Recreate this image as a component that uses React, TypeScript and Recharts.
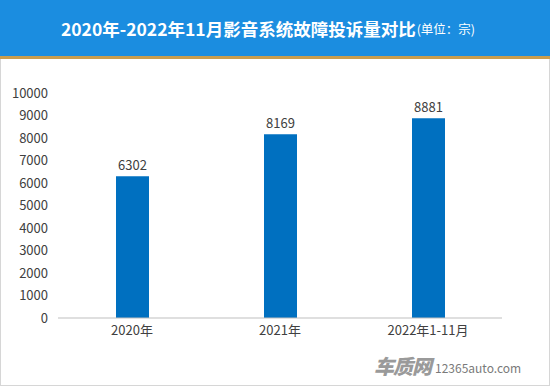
import { BarChart, Bar, XAxis, YAxis, LabelList } from "recharts";

// complaint counts per period
const categories = ["2020年", "2021年", "2022年1-11月"];
const complaints = [6302, 8169, 8881];
const yTicks = [0, 1000, 2000, 3000, 4000, 5000, 6000, 7000, 8000, 9000, 10000];

const data = categories.map((name, i) => ({ name, value: complaints[i] }));

const FONT = '"Noto Sans CJK SC", "Noto Sans", sans-serif';

export default function App() {
  return (
    <div
      style={{
        position: "fixed",
        left: 0,
        top: 0,
        width: 550,
        height: 386,
        background: "#fff",
        fontFamily: FONT,
        overflow: "hidden",
      }}
    >
      {/* title bar */}
      <div
        style={{
          position: "absolute",
          left: 0,
          top: 0,
          width: 550,
          height: 59,
          background: "#1B8DE0",
          borderBottom: "3px solid #C99D4E",
          color: "#fff",
          display: "flex",
          alignItems: "center",
          justifyContent: "center",
          boxSizing: "border-box",
          paddingRight: 14,
        }}
      >
        <span style={{ fontSize: 17.5, fontWeight: 700 }}>2020年-2022年11月影音系统故障投诉量对比</span>
        <span style={{ fontSize: 12.5, marginLeft: 1 }}>(单位：宗)</span>
      </div>

      {/* frame */}
      <div
        style={{
          position: "absolute",
          left: 0,
          top: 59,
          width: 550,
          height: 327,
          boxSizing: "border-box",
          border: "1px solid #D6D6D6",
          borderTop: "none",
        }}
      />

      <div style={{ position: "absolute", left: 0, top: 0 }}>
        <BarChart
          width={550}
          height={386}
          data={data}
          margin={{ top: 93, right: 48, bottom: 38, left: 0 }}
          barSize={33}
        >
          <XAxis
            dataKey="name"
            height={30}
            axisLine={{ stroke: "#BFBFBF" }}
            tickLine={false}
            tickSize={0}
            tickMargin={8}
            tick={{ fill: "#404040", fontSize: 13, fontFamily: FONT }}
          />
          <YAxis
            width={58}
            domain={[0, 10000]}
            ticks={yTicks}
            interval={0}
            axisLine={false}
            tickLine={false}
            tickSize={0}
            tickMargin={10}
            tick={{ fill: "#404040", fontSize: 13, fontFamily: FONT }}
          />
          <Bar dataKey="value" fill="#0070C0" isAnimationActive={false}>
            <LabelList
              dataKey="value"
              position="top"
              offset={6}
              style={{ fill: "#404040", fontSize: 13, fontFamily: FONT }}
            />
          </Bar>
        </BarChart>
      </div>

      {/* watermark */}
      <div
        style={{
          position: "absolute",
          left: 374,
          top: 354,
          display: "flex",
          alignItems: "flex-end",
          color: "#9A9A9A",
        }}
      >
        <span style={{ fontSize: 20, fontWeight: 900, fontStyle: "italic", lineHeight: "24px", letterSpacing: -1 }}>
          车质网
        </span>
        <span style={{ fontSize: 12, marginLeft: 4, lineHeight: "20px", color: "#7A7A7A" }}>12365auto.com</span>
      </div>
    </div>
  );
}
